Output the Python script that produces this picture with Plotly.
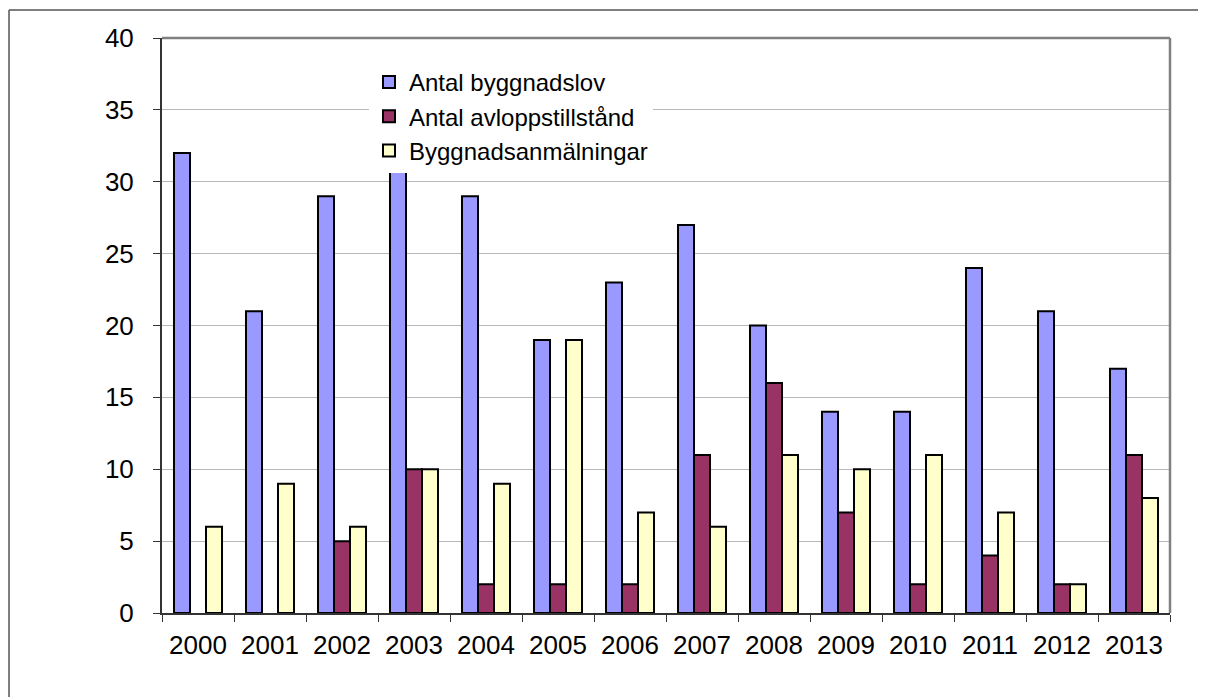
import plotly.graph_objects as go

years = ["2000", "2001", "2002", "2003", "2004", "2005", "2006", "2007",
         "2008", "2009", "2010", "2011", "2012", "2013"]
byggnadslov = [32, 21, 29, 31, 29, 19, 23, 27, 20, 14, 14, 24, 21, 17]
avlopp = [0, 0, 5, 10, 2, 2, 2, 11, 16, 7, 2, 4, 2, 11]
anmalningar = [6, 9, 6, 10, 9, 19, 7, 6, 11, 10, 11, 7, 2, 8]

names = ["Antal byggnadslov", "Antal avloppstillstånd", "Byggnadsanmälningar"]
colors = ["#9999FF", "#993366", "#FFFFCC"]
series = [byggnadslov, avlopp, anmalningar]

# page body has an 8px margin; figure coords are page coords minus 8
OFF = 8
W, H = 1206 - OFF, 697 - OFF
L, R, T, B = 162 - OFF, 36, 38 - OFF, 84

fig = go.Figure()
for name, col, vals in zip(names, colors, series):
    fig.add_trace(go.Bar(
        x=years, y=[v if v != 0 else None for v in vals], name=name,
        marker=dict(color=col, line=dict(color="black", width=2)),
    ))

pw = W - L - R
ph = H - T - B
def px(x):
    return (x - OFF - L) / pw
def py(y):
    return (H - B - (y - OFF)) / ph

shapes = [
    # outer frame (top and left)
    dict(type="line", xref="paper", yref="paper", x0=px(9), x1=px(1206), y0=py(10), y1=py(10),
         line=dict(color="#555555", width=1.5), layer="below"),
    dict(type="line", xref="paper", yref="paper", x0=px(9), x1=px(9), y0=py(10), y1=py(697),
         line=dict(color="#555555", width=1.5), layer="below"),
    # plot border top/right
    dict(type="line", xref="paper", yref="paper", x0=0, x1=1, y0=1, y1=1,
         line=dict(color="#808080", width=2.5)),
    dict(type="line", xref="paper", yref="paper", x0=1, x1=1, y0=0, y1=1,
         line=dict(color="#808080", width=2.5)),
]

fig.update_layout(
    width=W, height=H,
    margin=dict(l=L, r=R, t=T, b=B, autoexpand=False),
    paper_bgcolor="white", plot_bgcolor="white",
    barmode="group", bargap=0.333, bargroupgap=0,
    font=dict(family="Liberation Sans, Arial, sans-serif", color="black", size=24),
    showlegend=True,
    legend=dict(x=px(369), y=py(60), xanchor="left", yanchor="top",
                bgcolor="white", borderwidth=0,
                font=dict(size=24), tracegroupgap=0, itemwidth=30),
    shapes=shapes,
)
fig.update_xaxes(
    type="category", showline=True, linecolor="#333333", linewidth=2,
    ticks="outside", tickson="boundaries", ticklen=7, tickcolor="#333333",
    showgrid=False, tickfont=dict(size=26), ticklabelstandoff=8,
)
fig.update_yaxes(
    range=[0, 40], dtick=5, showline=True, linecolor="#333333", linewidth=2,
    ticks="outside", ticklen=7, tickcolor="#333333",
    showgrid=True, gridcolor="#B8B8B8", gridwidth=1, zeroline=False,
    tickfont=dict(size=26), ticklabelstandoff=14,
)

fig.write_html("out.html")
